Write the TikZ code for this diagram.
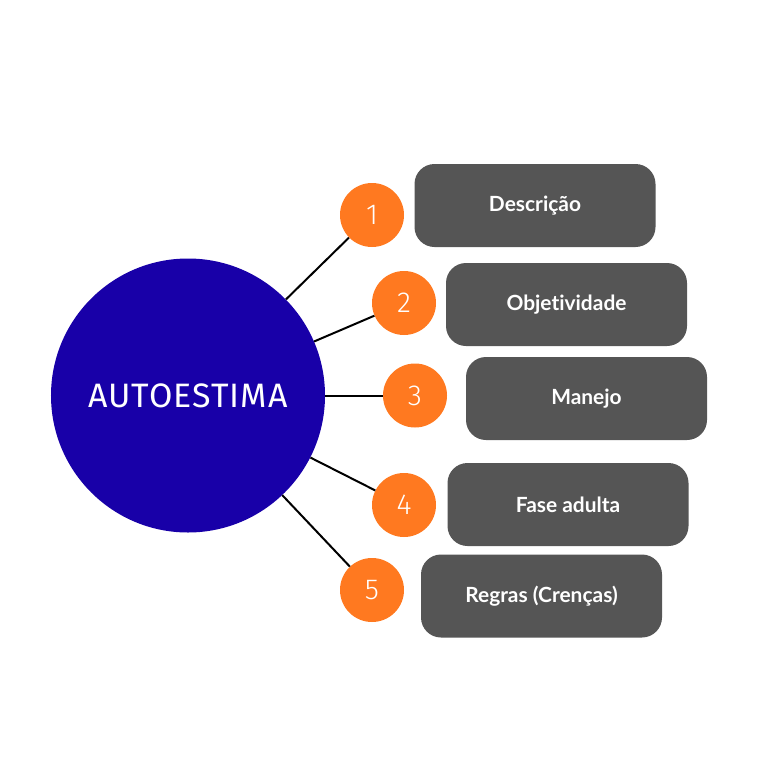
\documentclass[tikz,border=0pt]{standalone}
\usepackage{fontspec}
\setmainfont{Lato}[Ligatures=NoCommon]
\newfontfamily\titlefont[LetterSpace=3]{Fira Sans}
\newfontfamily\numfont{Fira Sans Light}
\usetikzlibrary{shapes,backgrounds}
\definecolor{autoblue}{RGB}{24,0,168}
\definecolor{numorange}{RGB}{255,121,32}
\definecolor{boxgray}{RGB}{85,85,85}

\begin{document}
\begin{tikzpicture}[x=1bp,y=-1bp,
		numdot/.style={circle,fill=numorange,minimum size=64bp,inner sep=0pt,text=white,font=\numfont\fontsize{29}{31}\selectfont},
		topicbox/.style={rectangle,rounded corners=20bp,fill=boxgray,minimum width=241bp,minimum height=83bp,inner sep=0pt,text=white,font=\bfseries\fontsize{21}{23}\selectfont},
		spoke/.style={black,line width=2bp}]
		\useasboundingbox (0,0) rectangle (768,773);
		\begin{scope}
			\node[circle,fill=autoblue,minimum size=274bp,inner sep=0pt,text=white,font=\titlefont\fontsize{34}{36}\selectfont] (auto) at (188,395.5) {AUTOESTIMA};
			\node[numdot] (n1) at (372,215) {1};
			\node[numdot] (n2) at (404,303) {2};
			\node[numdot] (n3) at (415,395.5) {3};
			\node[numdot] (n4) at (404,505) {4};
			\node[numdot] (n5) at (372,590) {5};
			\node[topicbox] (b1) at (535,205.5) {Descrição};
			\node[topicbox] (b2) at (566.5,304.5) {Objetividade};
			\node[topicbox] (b3) at (586.5,398.5) {Manejo};
			\node[topicbox] (b4) at (568,504.5) {Fase adulta};
			\node[topicbox] (b5) at (541.5,596) {Regras (Crenças)};
			\draw[spoke] (auto) -- (n1);
			\draw[spoke] (auto) -- (n2);
			\draw[spoke] (auto) -- (n3);
			\draw[spoke] (auto) -- (n4);
			\draw[spoke] (auto) -- (n5);
		\end{scope}
	\end{tikzpicture}
\end{document}
